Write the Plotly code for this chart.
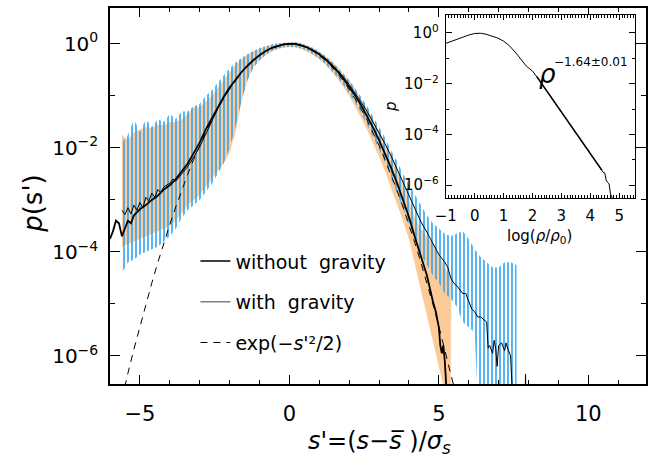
import plotly.graph_objects as go

# ---------------- data (log10 of p) ----------------
S_NOGRAV = [-6.0, -5.9, -5.8, -5.7, -5.6, -5.5, -5.4, -5.3, -5.2,
            -5.0, -4.8, -4.6, -4.4, -4.2, -4.0, -3.8, -3.6, -3.4, -3.2,
            -3.0, -2.8, -2.6, -2.4, -2.2, -2.0, -1.8, -1.6, -1.4, -1.2,
            -1.0, -0.8, -0.6, -0.4, -0.2, 0.0,
            0.2, 0.4, 0.6, 0.8, 1.0, 1.2, 1.4, 1.6, 1.8, 2.0,
            2.2, 2.4, 2.6, 2.8, 3.0, 3.2, 3.4, 3.6, 3.8, 4.0,
            4.2, 4.4, 4.6, 4.8,
            4.9, 5.0, 5.05, 5.1, 5.15, 5.2, 5.25]
LP_NOGRAV = [-3.75, -3.6, -3.4, -3.45, -3.7, -3.55, -3.4, -3.45, -3.3,
             -3.18, -3.1, -3.0, -2.92, -2.8, -2.72, -2.6, -2.45, -2.3, -2.1,
             -1.9, -1.65, -1.43, -1.22, -1.02, -0.84, -0.68, -0.54, -0.42, -0.31,
             -0.22, -0.14, -0.08, -0.04, -0.01, 0.0,
             0.0, -0.03, -0.07, -0.13, -0.2, -0.29, -0.4, -0.52, -0.66, -0.82,
             -0.99, -1.18, -1.39, -1.61, -1.85, -2.1, -2.38, -2.67, -3.0, -3.33,
             -3.72, -4.1, -4.45, -4.95,
             -5.15, -5.45, -5.8, -5.95, -5.8, -6.1, -6.6]

S_GRAV = [-5.6, -5.5, -5.4, -5.3, -5.2, -5.1, -5.0, -4.9, -4.8, -4.7,
          -4.6, -4.5, -4.4, -4.3, -4.2, -4.1, -4.0, -3.9, -3.8,
          -3.6, -3.4, -3.2, -3.0, -2.8, -2.6, -2.4, -2.2, -2.0, -1.8,
          -1.6, -1.4, -1.2, -1.0, -0.8, -0.6, -0.4, -0.2, 0.0,
          0.2, 0.4, 0.6, 0.8, 1.0, 1.2, 1.4, 1.6, 1.8, 2.0,
          2.2, 2.4, 2.6, 2.8, 3.0, 3.2, 3.4, 3.6, 3.8, 4.0,
          4.2, 4.4, 4.6, 4.8, 5.0, 5.2,
          5.3, 5.4, 5.5, 5.6, 5.7, 5.8, 5.9, 6.0, 6.1, 6.2, 6.3, 6.4, 6.5, 6.6,
          6.65, 6.7, 6.8, 6.85, 6.9, 6.95, 7.0, 7.1, 7.2, 7.25, 7.3, 7.35, 7.4, 7.45,
          7.5, 7.88, 7.9, 7.92]
LP_GRAV = [-3.2, -3.28, -3.15, -3.27, -3.1, -3.2, -3.05, -3.15, -2.95, -3.02,
           -2.87, -2.95, -2.8, -2.86, -2.75, -2.72, -2.68, -2.6, -2.64,
           -2.5, -2.36, -2.18, -1.98, -1.74, -1.48, -1.25, -1.04, -0.86, -0.69,
           -0.55, -0.42, -0.31, -0.22, -0.14, -0.08, -0.04, -0.01, 0.0,
           0.0, -0.03, -0.07, -0.13, -0.2, -0.28, -0.38, -0.5, -0.63, -0.78,
           -0.94, -1.12, -1.3, -1.5, -1.7, -1.92, -2.15, -2.4, -2.65, -2.9,
           -3.18, -3.42, -3.62, -3.85, -4.05, -4.2,
           -4.3, -4.5, -4.6, -4.65, -4.72, -4.8, -4.8, -4.95, -5.1, -5.15, -5.25, -5.25, -5.3, -5.35,
           -5.85, -5.8, -5.95, -5.7, -5.85, -6.2, -5.8, -5.75, -5.9, -5.75, -5.85, -5.95, -6.0, -6.6,
           -7.0, -7.0, -6.35, -7.0]

# Gaussian reference exp(-s'^2/2): abscissae only
S_GAUSS = [-6.0, -5.8, -5.6, -5.4, -5.2, -5.0, -4.8, -4.6, -4.4, -4.2, -4.0, -3.8, -3.6, -3.4,
           -3.2, -3.0, -2.8, -2.6, -2.4, -2.2, -2.0, -1.8, -1.6, -1.4, -1.2, -1.0, -0.8,
           -0.6, -0.4, -0.2, 0.0, 0.2, 0.4, 0.6, 0.8, 1.0, 1.2, 1.4, 1.6, 1.8, 2.0, 2.2,
           2.4, 2.6, 2.8, 3.0, 3.2, 3.4, 3.6, 3.8, 4.0, 4.2, 4.4, 4.6, 4.8, 5.0, 5.2, 5.4, 5.6]

# spread bands (log10 upper / lower)
BAND_S_BLUE = [-5.6, -5.4, -5.2, -5.0, -4.8, -4.6, -4.4, -4.2, -4.0, -3.8, -3.6, -3.4,
               -3.2, -3.0, -2.8, -2.6, -2.4, -2.2, -2.0, -1.8, -1.6, -1.4, -1.2, -1.0,
               -0.8, -0.6, -0.4, -0.2, 0.0, 0.2, 0.4, 0.6, 0.8, 1.0, 1.2, 1.4, 1.6, 1.8,
               2.0, 2.2, 2.4, 2.6, 2.8, 3.0, 3.2, 3.4, 3.6, 3.8, 4.0, 4.2, 4.4, 4.6, 4.8,
               5.0, 5.2, 5.4, 5.6, 5.8, 6.0, 6.2, 6.4, 6.6, 6.8, 7.0, 7.2, 7.4, 7.6]
BLUE_HI = [-1.9, -1.75, -1.45, -1.7, -1.45, -1.6, -1.45, -1.5, -1.35, -1.45, -1.3, -1.3,
           -1.2, -1.15, -1.0, -0.9, -0.75, -0.6, -0.47, -0.36, -0.27, -0.2, -0.13, -0.08,
           -0.04, -0.01, 0.01, 0.02, 0.03, 0.03, 0.01, -0.03, -0.08, -0.15, -0.23, -0.33, -0.44, -0.57,
           -0.7, -0.85, -1.02, -1.2, -1.4, -1.6, -1.8, -2.05, -2.25, -2.5, -2.7, -2.9, -3.1, -3.3, -3.45,
           -3.55, -3.65, -3.7, -3.65, -3.6, -3.75, -3.95, -4.1, -4.2, -4.3, -4.3, -4.2, -4.2, -4.25]
BLUE_LO = [-4.4, -4.2, -4.15, -4.05, -4.0, -3.95, -3.9, -3.8, -3.7, -3.55, -3.35, -3.2,
           -3.1, -3.0, -2.85, -2.7, -2.5, -2.3, -2.0, -1.6, -1.1, -0.7, -0.45, -0.32,
           -0.22, -0.14, -0.1, -0.07, -0.06, -0.06, -0.09, -0.13, -0.2, -0.28, -0.38, -0.5, -0.63, -0.78,
           -0.95, -1.13, -1.33, -1.55, -1.78, -2.02, -2.28, -2.55, -2.85, -3.15, -3.45, -3.75, -4.05, -4.25, -4.45,
           -4.6, -4.8, -4.9, -5.05, -5.35, -5.45, -5.55, -8.0, -8.0, -8.0, -8.0, -8.0, -8.0, -8.0]

BAND_S_ORANGE = [-5.6, -5.4, -5.2, -5.0, -4.8, -4.6, -4.4, -4.2, -4.0, -3.8, -3.6, -3.4,
                 -3.2, -3.0, -2.8, -2.6, -2.4, -2.2, -2.0, -1.8, -1.6, -1.4, -1.2, -1.0,
                 -0.8, -0.6, -0.4, -0.2, 0.0, 0.2, 0.4, 0.6, 0.8, 1.0, 1.2, 1.4, 1.6, 1.8,
                 2.0, 2.2, 2.4, 2.6, 2.8, 3.0, 3.2, 3.4, 3.6, 3.8, 4.0, 4.2, 4.4, 4.6, 4.8,
                 5.0, 5.2, 5.4]
ORANGE_HI = [-1.75, -1.85, -1.7, -1.65, -1.6, -1.62, -1.55, -1.57, -1.5, -1.5, -1.45, -1.35,
             -1.22, -1.22, -1.1, -1.0, -0.85, -0.7, -0.55, -0.4, -0.3, -0.21, -0.14, -0.09,
             -0.05, -0.02, 0.0, 0.02, 0.03, 0.03, 0.01, -0.03, -0.08, -0.15, -0.23, -0.32, -0.43, -0.56,
             -0.7, -0.86, -1.04, -1.24, -1.45, -1.67, -1.9, -2.15, -2.42, -2.7, -3.0, -3.35, -3.55, -3.7, -3.85,
             -4.05, -4.3, -4.5]
ORANGE_LO = [-3.9, -3.85, -3.8, -3.75, -3.7, -3.65, -3.6, -3.55, -3.5, -3.4, -3.25, -3.1,
             -3.0, -2.9, -2.75, -2.6, -2.45, -2.3, -2.1, -1.7, -1.1, -0.7, -0.45, -0.32,
             -0.22, -0.15, -0.1, -0.07, -0.06, -0.07, -0.1, -0.15, -0.22, -0.3, -0.4, -0.52, -0.66, -0.82,
             -1.0, -1.2, -1.42, -1.65, -1.9, -2.17, -2.45, -2.75, -3.07, -3.4, -3.75, -4.2, -4.75, -5.25, -5.7,
             -6.2, -6.7, -8.0]

# inset: density PDF
LOGRHO = [-1.0, -0.8, -0.6, -0.4, -0.2, 0.0, 0.1, 0.2, 0.4, 0.6, 0.8, 1.0, 1.2, 1.4, 1.6, 1.7,
          1.8, 2.0, 2.2, 2.6, 3.0, 3.4, 3.8, 4.2, 4.35, 4.4, 4.45, 4.5, 4.55, 4.6, 4.65, 4.7, 4.8]
LP_RHO = [-0.41, -0.32, -0.23, -0.15, -0.08, -0.02, 0.0, -0.01, -0.05, -0.12, -0.2, -0.32, -0.5,
          -0.75, -1.05, -1.2, -1.32, -1.5, -1.8, -2.46, -3.12, -3.77, -4.43, -5.1, -5.35, -5.42,
          -5.5, -5.52, -5.8, -5.9, -5.95, -6.35, -6.6]
FIT_X = [2.15, 4.4]
FIT_LP = [-1.72, -5.41]

Y_TICKS = [0, -2, -4, -6]
Y_MINOR = [-1, -3, -5]


def lin(v):
    return [10.0 ** a for a in v]


FONT = "DejaVu Sans"
fig = go.Figure()

# orange band (without gravity)
fig.add_trace(go.Scatter(
    x=BAND_S_ORANGE + BAND_S_ORANGE[::-1],
    y=lin(ORANGE_HI + ORANGE_LO[::-1]),
    fill="toself", fillcolor="#FDCB98", mode="lines", line=dict(width=0),
    showlegend=False, hoverinfo="skip"))

# blue hatched band (with gravity)
fig.add_trace(go.Scatter(
    x=BAND_S_BLUE + BAND_S_BLUE[::-1],
    y=lin(BLUE_HI + BLUE_LO[::-1]),
    fill="toself", fillcolor="rgba(0,0,0,0)", mode="lines", line=dict(width=0),
    fillpattern=dict(shape="|", fgcolor="#2BA3F4", bgcolor="rgba(0,0,0,0)",
                     size=4, solidity=0.4, fillmode="replace"),
    showlegend=False, hoverinfo="skip"))

# gaussian
fig.add_trace(go.Scatter(
    x=S_GAUSS, y=[2.718281828459045 ** (-s * s / 2.0) for s in S_GAUSS],
    mode="lines", line=dict(color="black", width=1, dash="7px,6px"),
    showlegend=False))

# with gravity (thin)
fig.add_trace(go.Scatter(x=S_GRAV, y=lin(LP_GRAV), mode="lines",
                         line=dict(color="black", width=1), showlegend=False))
# without gravity (thick)
fig.add_trace(go.Scatter(x=S_NOGRAV, y=lin(LP_NOGRAV), mode="lines",
                         line=dict(color="black", width=1.8), showlegend=False))

# legend entries
fig.add_trace(go.Scatter(x=[None], y=[None], mode="lines", name="without\u00a0\u00a0gravity",
                         line=dict(color="black", width=1.5), legendgroup="a"))
fig.add_trace(go.Scatter(x=[None], y=[None], mode="lines", name="with\u00a0\u00a0gravity",
                         line=dict(color="#808080", width=1.5), legendgroup="b"))
fig.add_trace(go.Scatter(x=[None], y=[None], mode="lines", name="exp(\u2212<i>s</i>'\u00b2/2)",
                         line=dict(color="black", width=1, dash="7px,6px"), legendgroup="c"))

# inset
fig.add_trace(go.Scatter(x=LOGRHO, y=lin(LP_RHO), mode="lines", xaxis="x2", yaxis="y2",
                         line=dict(color="black", width=1), showlegend=False))
fig.add_trace(go.Scatter(x=FIT_X, y=lin(FIT_LP), mode="lines", xaxis="x2", yaxis="y2",
                         line=dict(color="black", width=1.6), showlegend=False))

ytext = ["10<sup>0</sup>" if t == 0 else "10<sup>\u2212%d</sup>" % (-t) for t in Y_TICKS]

axis_common = dict(showline=True, linecolor="black", mirror="ticks", ticks="inside",
                   tickcolor="black", showgrid=False, zeroline=False)

fig.update_layout(
    width=648, height=458,
    margin=dict(l=110, r=0, t=8, b=74),
    paper_bgcolor="white", plot_bgcolor="white",
    font=dict(family=FONT, color="black"),
    xaxis=dict(range=[-6, 11.93], tick0=0, dtick=5, ticklen=9, tickwidth=1.3, linewidth=1.5,
               tickfont=dict(size=21), ticklabelstandoff=10,
               minor=dict(dtick=1, ticklen=4, ticks="inside", tickcolor="black", tickwidth=1.2),
               **axis_common),
    yaxis=dict(type="log", range=[-6.54, 0.69], tickvals=lin(Y_TICKS), ticktext=ytext,
               ticklen=10, tickwidth=1.3, linewidth=1.5, tickfont=dict(size=20), ticklabelstandoff=6,
               minor=dict(tickvals=lin(Y_MINOR), ticklen=5, ticks="inside", tickcolor="black", tickwidth=1.2),
               **axis_common),
    xaxis2=dict(domain=[0.6264, 0.9796], anchor="y2", range=[-1, 5.55], tick0=0, dtick=1,
                ticklen=5, tickwidth=1, linewidth=1.2, tickfont=dict(size=15), ticklabelstandoff=4,
                minor=dict(dtick=0.1, ticklen=2.5, ticks="inside", tickcolor="black", tickwidth=0.8),
                **axis_common),
    yaxis2=dict(domain=[0.4947, 0.9814], anchor="x2", type="log", range=[-6.51, 0.71],
                tickvals=lin(Y_TICKS), ticktext=ytext, ticklen=6, tickwidth=1, linewidth=1.2,
                tickfont=dict(size=15), ticklabelstandoff=3,
                minor=dict(tickvals=lin(Y_MINOR), ticklen=3, ticks="inside", tickcolor="black", tickwidth=0.8),
                **axis_common),
    legend=dict(x=0.1594, y=0.377, xanchor="left", yanchor="top", bgcolor="rgba(0,0,0,0)",
                font=dict(size=19, family=FONT), tracegroupgap=13, itemwidth=30),
    annotations=[
        dict(text="<i>p</i>(s')", x=-0.145, y=0.48, xref="paper", yref="paper",
             showarrow=False, textangle=-90, font=dict(size=26), xanchor="center", yanchor="middle"),
        dict(text="<i>s</i>'=(<i>s</i>\u2212<i>s\u0305</i> )/<i>\u03c3<sub>s</sub></i>",
             x=(381 - 110) / 538, y=(384 - 442) / 376, xref="paper", yref="paper",
             showarrow=False, font=dict(size=24), xanchor="center", yanchor="middle"),
        dict(text="log(<i>\u03c1</i>/<i>\u03c1</i><sub>0</sub>)", x=(541 - 110) / 538,
             y=(384 - 236) / 376, xref="paper", yref="paper", showarrow=False,
             font=dict(size=15), xanchor="center", yanchor="middle"),
        dict(text="<i>p</i>", x=(392 - 110) / 538, y=(384 - 106) / 376, xref="paper", yref="paper",
             showarrow=False, textangle=-90, font=dict(size=15), xanchor="center", yanchor="middle"),
        dict(text="<i>\u03c1</i>", x=(549 - 110) / 538, y=(384 - 74) / 376, xref="paper", yref="paper",
             showarrow=False, font=dict(size=26), xanchor="center", yanchor="middle"),
        dict(text="\u22121.64\u00b10.01", x=(593 - 110) / 538, y=(384 - 62) / 376, xref="paper",
             yref="paper", showarrow=False, font=dict(size=12), xanchor="center", yanchor="middle"),
    ],
)

fig.write_html("out.html")
